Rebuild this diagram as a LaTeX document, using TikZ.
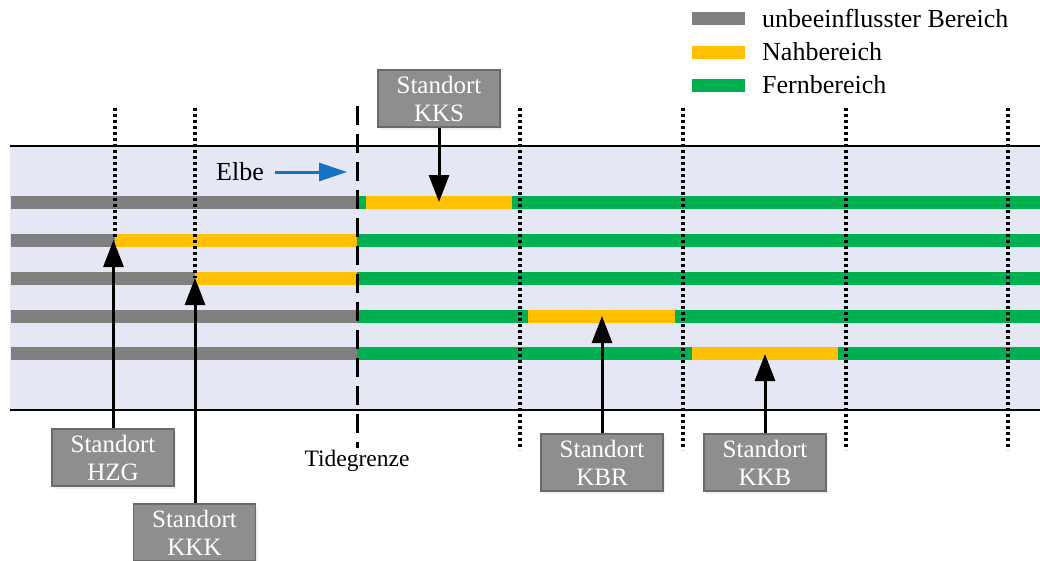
\documentclass[tikz,border=0pt]{standalone}
\usepackage{fontspec}
\setmainfont{Liberation Serif}
\usetikzlibrary{arrows.meta,shadows}

\definecolor{bandfill}{HTML}{E5E8F4}
\definecolor{zonegray}{HTML}{7F7F7F}
\definecolor{zoneorange}{HTML}{FFC000}
\definecolor{zonegreen}{HTML}{00B050}
\definecolor{boxfill}{HTML}{8E8E8E}
\definecolor{boxline}{HTML}{6A6A6A}
\definecolor{flowblue}{HTML}{1673C4}

\tikzset{
  stripe/.style={line width=13pt, line cap=butt},
  bank/.style={line width=2.6pt, black},
  gridline/.style={line width=3.2pt, dash pattern=on 3pt off 3pt, black},
  tideline/.style={line width=3pt, dash pattern=on 19pt off 9pt, black},
  sitebox/.style={draw=boxline, line width=1.2pt, fill=boxfill, text=white,
    minimum width=122pt, minimum height=57pt, align=center, inner sep=0pt,
    font=\fontsize{25}{28}\selectfont,
    drop shadow={opacity=0.12, shadow xshift=2pt, shadow yshift=-3pt}},
  sitearrow/.style={line width=3pt, -{Triangle[length=27pt,width=20pt]}},
  legtext/.style={anchor=west, inner sep=0pt, font=\fontsize{26}{28}\selectfont},
}

\begin{document}
\begin{tikzpicture}[x=1pt,y=-1pt]
\useasboundingbox (0,0) rectangle (1040,560);

% river band
\fill[bandfill] (10,146) rectangle (1040,410);

% row 1
\draw[stripe, zonegray]   (11,202) -- (357,202);
\draw[stripe, zonegreen]  (357,202) -- (366,202);
\draw[stripe, zoneorange] (366,202) -- (512,202);
\draw[stripe, zonegreen]  (512,202) -- (1040,202);
% row 2
\draw[stripe, zonegray]   (11,240) -- (115,240);
\draw[stripe, zoneorange] (115,240) -- (357,240);
\draw[stripe, zonegreen]  (357,240) -- (1040,240);
% row 3
\draw[stripe, zonegray]   (11,278) -- (195,278);
\draw[stripe, zoneorange] (195,278) -- (357,278);
\draw[stripe, zonegreen]  (357,278) -- (1040,278);
% row 4
\draw[stripe, zonegray]   (11,316) -- (357,316);
\draw[stripe, zonegreen]  (357,316) -- (528,316);
\draw[stripe, zoneorange] (528,316) -- (675,316);
\draw[stripe, zonegreen]  (675,316) -- (1040,316);
% row 5
\draw[stripe, zonegray]   (11,353) -- (357,353);
\draw[stripe, zonegreen]  (357,353) -- (692,353);
\draw[stripe, zoneorange] (692,353) -- (838,353);
\draw[stripe, zonegreen]  (838,353) -- (1040,353);

% section boundaries
\draw[gridline] (115,108) -- (115,240);
\draw[gridline] (195,108) -- (195,278);
\foreach \gx in {520,683,846,1008}
  \draw[gridline] (\gx,108) -- (\gx,450);

% tidal limit
\draw[tideline] (357,106) -- (357,448);
\node[inner sep=0pt, font=\fontsize{23.5}{25}\selectfont] (tide) at (357,461) {Tidegrenze};

% river banks
\draw[bank] (10,146) -- (1040,146);
\draw[bank] (10,410) -- (1040,410);

% flow direction
\node[inner sep=0pt, font=\fontsize{26}{28}\selectfont] (elbe) at (240,172) {Elbe};
\coordinate (flowtip) at (347,172);
\draw[flowblue, line width=3pt, -{Triangle[length=28pt,width=18pt]}]
  (elbe.east) ++(11,0) coordinate (flowstart) (flowstart) -- (flowtip);

% sites
\node[sitebox] (hzg) at (113,457.5) {Standort\\HZG};
\node[sitebox] (kkk) at (194.5,532.5) {Standort\\KKK};
\node[sitebox] (kks) at (439,98.5) {Standort\\KKS};
\node[sitebox] (kbr) at (602,462.5) {Standort\\KBR};
\node[sitebox] (kkb) at (765,462.5) {Standort\\KKB};

\coordinate (hzgtip) at (113.5,240);
\coordinate (kkktip) at (195,278);
\coordinate (kkstip) at (439,202);
\coordinate (kbrtip) at (602,316);
\coordinate (kkbtip) at (765,354);

\draw[sitearrow] (hzg.north -| hzgtip) -- (hzgtip);
\draw[sitearrow] (kkk.north -| kkktip) -- (kkktip);
\draw[sitearrow] (kks.south) -- (kkstip);
\draw[sitearrow] (kbr.north) -- (kbrtip);
\draw[sitearrow] (kkb.north) -- (kkbtip);

% legend
\draw[stripe, zonegray]   (692,18) -- (745,18);
\draw[stripe, zoneorange] (692,52) -- (745,52);
\draw[stripe, zonegreen]  (692,85) -- (745,85);
\node[legtext] (leg1) at (762,18) {unbeeinflusster Bereich};
\node[legtext] (leg2) at (762,52) {Nahbereich};
\node[legtext] (leg3) at (762,85) {Fernbereich};
\end{tikzpicture}
\end{document}
